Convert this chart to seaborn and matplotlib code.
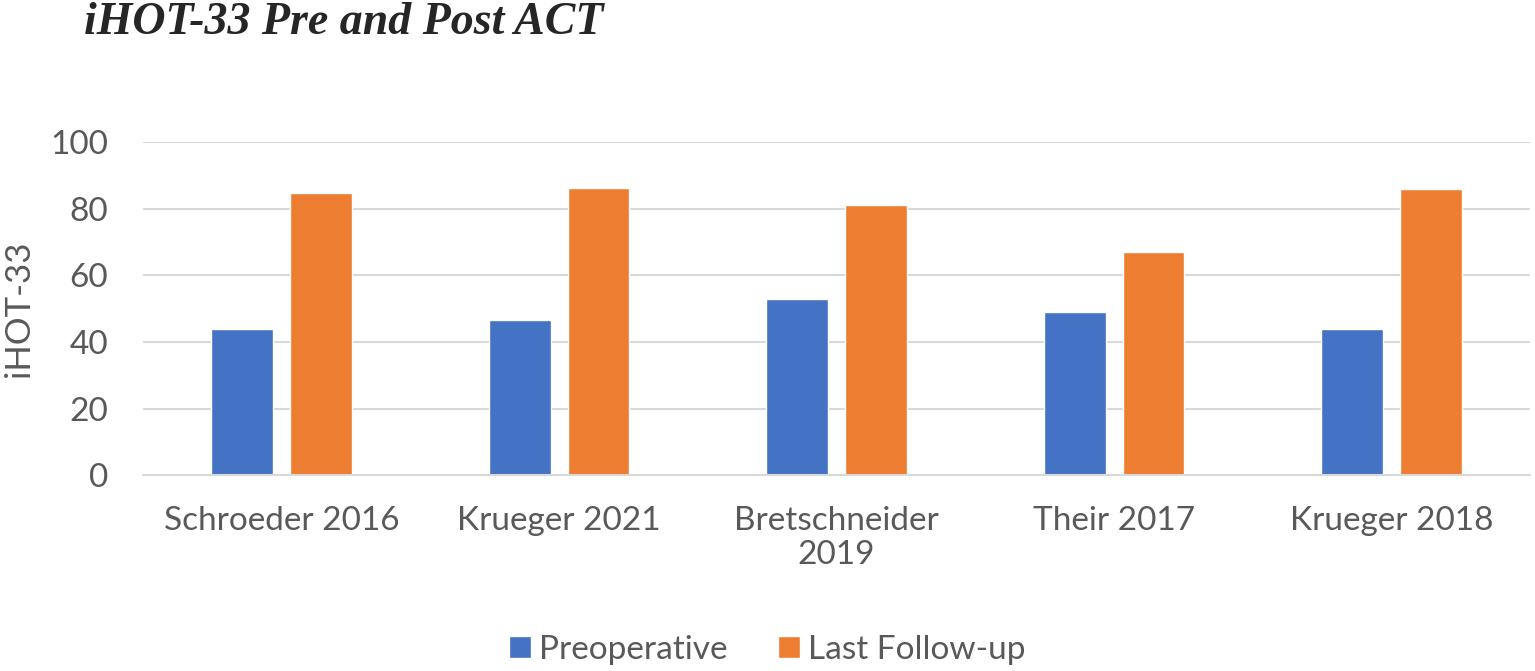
import matplotlib
matplotlib.use("Agg")
import matplotlib.pyplot as plt
import seaborn as sns
import pandas as pd

studies = ["Schroeder 2016", "Krueger 2021", "Bretschneider\n2019", "Their 2017", "Krueger 2018"]
preoperative = [44, 46.7, 52.8, 48.9, 43.9]
last_followup = [84.9, 86.3, 81.1, 67.1, 86.0]
series = ["Preoperative", "Last Follow-up"]
colors = ["#4472C4", "#ED7D31"]


def main():
    sns.set_style("white")
    plt.rcParams['font.family'] = ['Lato', 'DejaVu Sans']

    df = pd.DataFrame({
        "Study": studies * 2,
        "Score": preoperative + last_followup,
        "Series": [series[0]] * len(studies) + [series[1]] * len(studies),
    })

    fig = plt.figure(figsize=(15.35, 6.71), dpi=100)
    ax = fig.add_axes([0.093, 0.292, 0.904, 0.496])
    sns.barplot(data=df, x="Study", y="Score", hue="Series", palette=colors,
                width=0.567, gap=0.217, saturation=1, ax=ax, legend=True)

    ax.set_ylim(0, 100)
    ax.set_yticks(range(0, 101, 20))
    ax.set_xlim(-0.5, len(studies) - 0.5)
    ax.yaxis.grid(True, color="#d9d9d9", linewidth=1.5)
    ax.set_axisbelow(True)
    for side in ["top", "right", "left"]:
        ax.spines[side].set_visible(False)
    ax.spines["bottom"].set_color("#d9d9d9")
    ax.spines["bottom"].set_linewidth(1.5)
    ax.tick_params(axis="both", length=0, labelsize=24, colors="#595959")
    ax.tick_params(axis="y", pad=25)
    ax.tick_params(axis="x", pad=22)
    ax.set_xlabel("")
    ax.set_ylabel("iHOT-33", fontsize=25, color="#595959")
    ax.yaxis.set_label_coords(-0.078, 0.5)

    handles, labels = ax.get_legend_handles_labels()
    ax.get_legend().remove()
    fig.legend(handles, labels, loc="center", bbox_to_anchor=(0.5, 0.032), ncol=2,
               frameon=False, fontsize=24, labelcolor="#595959",
               handlelength=0.65, handleheight=0.65, columnspacing=1.5, handletextpad=0.25)

    fig.text(0.055, 0.965, "iHOT-33 Pre and Post ACT", fontsize=33,
             family=["Liberation Serif", "DejaVu Serif"], style="italic", weight="bold",
             ha="left", va="center")

    fig.savefig("out.png", dpi=100)


if __name__ == "__main__":
    main()
